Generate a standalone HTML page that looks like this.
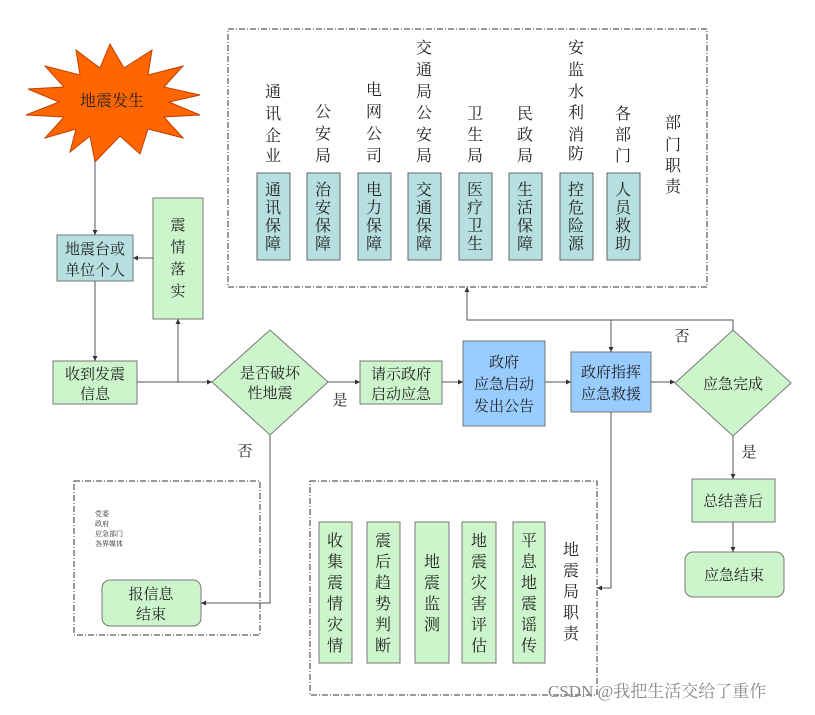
<!DOCTYPE html>
<html><head><meta charset="utf-8"><style>
html,body{margin:0;padding:0;background:#fff;}
svg text{font-family:"Liberation Serif","Noto Serif CJK SC","Noto Sans CJK SC",serif;fill:#222;}
</style></head><body>
<svg width="815" height="710" viewBox="0 0 815 710" xmlns="http://www.w3.org/2000/svg">
<defs><marker id="a" markerWidth="6" markerHeight="6" refX="5" refY="3" orient="auto"><path d="M0,0.5 L5,3 L0,5.5z" fill="#333"/></marker></defs>
<g fill="none" stroke="#333" stroke-width="1" stroke-dasharray="6,2,1,2">
<rect x="228" y="29" width="479" height="258"/>
<rect x="74" y="481" width="186" height="154"/>
<rect x="310" y="481" width="287" height="214"/>
</g>
<!-- star -->
<polygon points="110,44 124,68 152,50 148,75 183,66 164,87 200,95 169,102 200,115 164,117 183,138 148,129 140,154 120,136 95,162 90,136 70,152 76,129 45,138 64,117 26,115 59,102 28,89 64,87 45,66 80,75 76,50 100,68" fill="#ff6600" stroke="#c04000"/>
<text x="112" y="106" font-size="16" text-anchor="middle">地震发生</text>
<!-- boxes -->
<g stroke="#777" stroke-width="1">
<rect x="57" y="235" width="76" height="46" fill="#b7dfe0"/>
<rect x="153" y="198" width="50" height="121" fill="#ccf5cc"/>
<rect x="53" y="361" width="84" height="43" fill="#ccf5cc"/>
<polygon points="270,330 328,382 270,435 212,382" fill="#ccf5cc"/>
<rect x="360" y="361" width="82" height="43" fill="#ccf5cc"/>
<rect x="463" y="341" width="82" height="85" fill="#99ccff"/>
<rect x="571" y="352" width="80" height="60" fill="#99ccff"/>
<polygon points="733,330 791,383 733,436 675,383" fill="#ccf5cc"/>
<rect x="692" y="479" width="83" height="43" fill="#ccf5cc"/>
<rect x="685" y="552" width="99" height="45" rx="8" fill="#ccf5cc"/>
<rect x="102" y="580" width="99" height="46" rx="8" fill="#ccf5cc"/>
</g>
<g font-size="15" text-anchor="middle">
<text x="95" y="254">地震台或</text><text x="95" y="275">单位个人</text>
<text x="178" y="230">震</text><text x="178" y="252">情</text><text x="178" y="274">落</text><text x="178" y="296">实</text>
<text x="95" y="379">收到发震</text><text x="95" y="399">信息</text>
<text x="270" y="378">是否破坏</text><text x="270" y="398">性地震</text>
<text x="401" y="379">请示政府</text><text x="401" y="399">启动应急</text>
<text x="504" y="367">政府</text><text x="504" y="389">应急启动</text><text x="504" y="411">发出公告</text>
<text x="611" y="377">政府指挥</text><text x="611" y="399">应急救援</text>
<text x="733" y="389">应急完成</text>
<text x="733" y="506">总结善后</text>
<text x="734" y="580">应急结束</text>
<text x="151" y="599">报信息</text><text x="151" y="619">结束</text>
<text x="245" y="456">否</text><text x="340" y="405">是</text>
<text x="682" y="341">否</text><text x="749" y="457">是</text>
</g>
<g font-size="7" fill="#444"><text x="95" y="516">党委</text><text x="95" y="526">政府</text><text x="95" y="536">应急部门</text><text x="95" y="546">各界媒体</text></g>
<!-- dept boxes -->
<g fill="#b7dfe0" stroke="#666">
<rect x="257" y="173" width="33" height="87"/><rect x="307" y="173" width="33" height="87"/>
<rect x="358" y="173" width="33" height="87"/><rect x="408" y="173" width="33" height="87"/>
<rect x="459" y="173" width="33" height="87"/><rect x="509" y="173" width="33" height="87"/>
<rect x="560" y="173" width="33" height="87"/><rect x="607" y="173" width="33" height="87"/>
</g>
<g font-size="16" text-anchor="middle">
<g transform="translate(273,0)"><text y="195">通</text><text y="213">讯</text><text y="231">保</text><text y="249">障</text><text y="97">通</text><text y="119">讯</text><text y="141">企</text><text y="161">业</text></g>
<g transform="translate(323,0)"><text y="195">治</text><text y="213">安</text><text y="231">保</text><text y="249">障</text><text y="117">公</text><text y="139">安</text><text y="161">局</text></g>
<g transform="translate(374,0)"><text y="195">电</text><text y="213">力</text><text y="231">保</text><text y="249">障</text><text y="95">电</text><text y="117">网</text><text y="139">公</text><text y="161">司</text></g>
<g transform="translate(424,0)"><text y="195">交</text><text y="213">通</text><text y="231">保</text><text y="249">障</text><text y="53">交</text><text y="75">通</text><text y="97">局</text><text y="118">公</text><text y="140">安</text><text y="161">局</text></g>
<g transform="translate(475,0)"><text y="195">医</text><text y="213">疗</text><text y="231">卫</text><text y="249">生</text><text y="119">卫</text><text y="140">生</text><text y="161">局</text></g>
<g transform="translate(525,0)"><text y="195">生</text><text y="213">活</text><text y="231">保</text><text y="249">障</text><text y="119">民</text><text y="140">政</text><text y="161">局</text></g>
<g transform="translate(576,0)"><text y="195">控</text><text y="213">危</text><text y="231">险</text><text y="249">源</text><text y="53">安</text><text y="75">监</text><text y="97">水</text><text y="118">利</text><text y="140">消</text><text y="159">防</text></g>
<g transform="translate(623,0)"><text y="195">人</text><text y="213">员</text><text y="231">救</text><text y="249">助</text><text y="119">各</text><text y="140">部</text><text y="161">门</text></g>
<g transform="translate(673,0)"><text y="128">部</text><text y="150">门</text><text y="171">职</text><text y="192">责</text></g>
</g>
<!-- bottom boxes -->
<g fill="#ccf5cc" stroke="#777">
<rect x="319" y="522" width="33" height="141"/><rect x="367" y="522" width="33" height="141"/>
<rect x="415" y="522" width="34" height="141"/><rect x="462" y="522" width="34" height="141"/>
<rect x="513" y="522" width="32" height="141"/>
</g>
<g font-size="16" text-anchor="middle">
<g transform="translate(335,0)"><text y="546">收</text><text y="567">集</text><text y="588">震</text><text y="609">情</text><text y="630">灾</text><text y="651">情</text></g>
<g transform="translate(383,0)"><text y="546">震</text><text y="567">后</text><text y="588">趋</text><text y="609">势</text><text y="630">判</text><text y="651">断</text></g>
<g transform="translate(432,0)"><text y="567">地</text><text y="588">震</text><text y="609">监</text><text y="630">测</text></g>
<g transform="translate(479,0)"><text y="546">地</text><text y="567">震</text><text y="588">灾</text><text y="609">害</text><text y="630">评</text><text y="651">估</text></g>
<g transform="translate(529,0)"><text y="546">平</text><text y="567">息</text><text y="588">地</text><text y="609">震</text><text y="630">谣</text><text y="651">传</text></g>
<g transform="translate(571,0)"><text y="555">地</text><text y="576">震</text><text y="597">局</text><text y="618">职</text><text y="639">责</text></g>
</g>
<!-- connectors -->
<g fill="none" stroke="#555" stroke-width="1" marker-end="url(#a)">
<path d="M95,160 V235"/>
<path d="M153,258 H133"/>
<path d="M95,281 V361"/>
<path d="M137,382 H212"/>
<path d="M178,382 V319"/>
<path d="M270,435 V603 H201"/>
<path d="M328,382 H360"/>
<path d="M442,382 H463"/>
<path d="M545,382 H571"/>
<path d="M651,382 H675"/>
<path d="M733,330 V320 H467 V287"/>
<path d="M611,320 V352"/>
<path d="M611,412 V588 H597"/>
<path d="M733,436 V479"/>
<path d="M733,522 V552"/>
</g>
<text x="548" y="697" font-size="17" style="fill:#888">CSDN @我把生活交给了重作</text>
</svg>
</body></html>
